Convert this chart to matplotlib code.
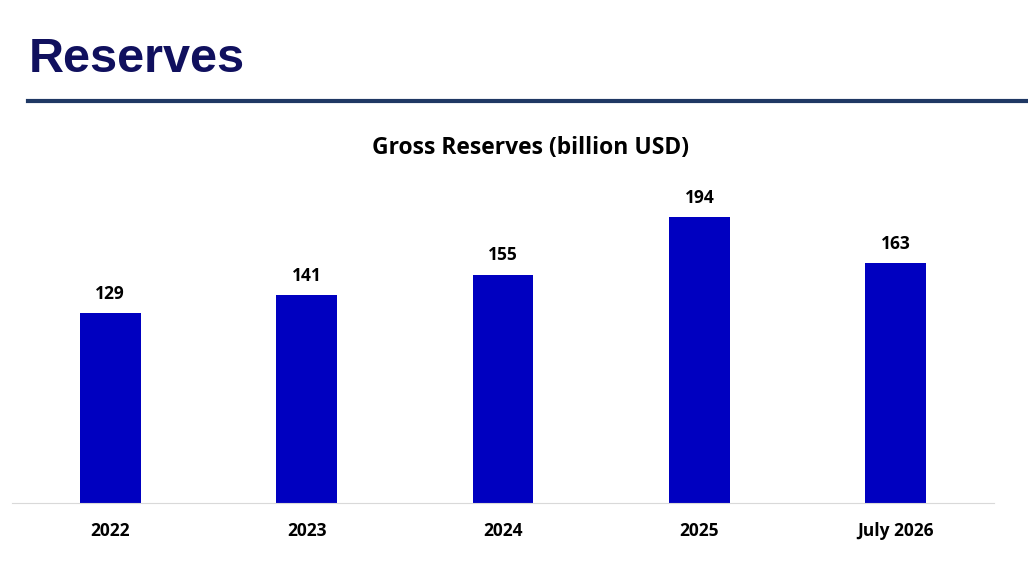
import matplotlib
matplotlib.use('Agg')
import matplotlib.pyplot as plt

categories = ['2022', '2023', '2024', '2025', 'July 2026']
reserves = [129, 141, 155, 194, 163]

fig = plt.figure(figsize=(10.28, 5.78), dpi=100)
W, H = 1028, 578

# page title and rule
fig.text(29 / W, 1 - 60 / H, 'Reserves', fontsize=35, fontweight='bold',
         color='#10105e', family='Liberation Sans', va='center', ha='left')
fig.add_artist(plt.Line2D([28 / W, 1], [1 - 101 / H] * 2, color='#1f3864', lw=3))

# chart axes: baseline at y=503, top at y=130, x from 12 to 994
ax = fig.add_axes([12 / W, 1 - 503 / H, (994 - 12) / W, (503 - 130) / H])
x = range(len(categories))
bars = ax.bar(x, reserves, width=0.31, color='#0000c0')
ax.set_xlim(-0.5, len(categories) - 0.5)
ax.set_ylim(0, 373 / 1.473)

for b, v in zip(bars, reserves):
    ax.text(b.get_x() + b.get_width() / 2, v + 7, str(v), ha='center', va='bottom',
            fontsize=12.5, fontweight='bold', family='Open Sans')

ax.set_xticks(list(x))
ax.set_xticklabels(categories, fontsize=12.5, fontweight='bold', family='Open Sans')
ax.tick_params(axis='x', length=0, pad=14)
ax.set_yticks([])
for s in ['top', 'right', 'left']:
    ax.spines[s].set_visible(False)
ax.spines['bottom'].set_color('#d9d9d9')

fig.text(530 / W, 1 - 148 / H, 'Gross Reserves (billion USD)', fontsize=16.5,
         fontweight='bold', family='Open Sans', ha='center', va='center')

fig.savefig('out.png', dpi=100)
